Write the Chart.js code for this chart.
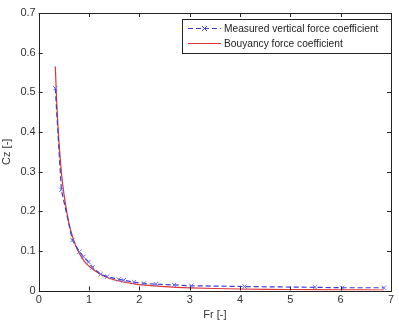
<!DOCTYPE html>
<html>
<head>
<meta charset="utf-8">
<script src="https://cdn.jsdelivr.net/npm/chart.js@4/dist/chart.umd.min.js"></script>
<style>
  html, body { margin: 0; padding: 0; background: #fff; }
  #wrap { width: 399px; height: 324px; }
</style>
</head>
<body>
<div id="wrap"><canvas id="myChart" width="399" height="324"></canvas></div>
<script>
// valores
const frMedido = [0.33, 0.45, 0.67, 0.81, 0.89, 0.99, 1.07, 1.23, 1.36, 1.59, 1.69, 1.89, 2.09, 2.33, 2.69, 3.03, 4.09, 5.49, 6.03, 6.86];
const czMedido = [0.51, 0.254, 0.127, 0.098, 0.085, 0.072, 0.058, 0.041, 0.035, 0.028, 0.026, 0.021, 0.018, 0.016, 0.014, 0.012, 0.01, 0.008, 0.007, 0.007];
const frEmpuxo = [0.33, 0.36, 0.4, 0.45, 0.5, 0.6, 0.7, 0.8, 0.9, 1.0, 1.2, 1.4, 1.6, 1.8, 2.0, 2.5, 3.0, 4.0, 5.0, 6.0, 6.86];
const czEmpuxo = [0.565, 0.47, 0.38, 0.30, 0.245, 0.17, 0.125, 0.095, 0.075, 0.061, 0.043, 0.031, 0.024, 0.019, 0.015, 0.0098, 0.0068, 0.0038, 0.0025, 0.0017, 0.0013];
const ticksX = [0, 1, 2, 3, 4, 5, 6, 7];
const ticksY = [0, 0.1, 0.2, 0.3, 0.4, 0.5, 0.6, 0.7];
const nomes = ["Measured vertical force coefficient", "Bouyancy force coefficient"];

const azul = "#3b3bd0";
const vermelho = "#e03535";
const fonte = "'Liberation Sans', Arial, sans-serif";

function pares(xs, ys) {
  return xs.map((x, i) => ({ x: x, y: ys[i] }));
}

// ticks para dentro em todos os lados, estilo matlab
const ticksDentro = {
  id: "ticksDentro",
  afterDraw(chart) {
    const ctx = chart.ctx;
    const a = chart.chartArea;
    const sx = chart.scales.x;
    const sy = chart.scales.y;
    ctx.save();
    ctx.strokeStyle = "#222";
    ctx.lineWidth = 1;
    ctx.strokeRect(Math.round(a.left) + 0.5, Math.round(a.top) + 0.5, Math.round(a.right - a.left), Math.round(a.bottom - a.top));
    ctx.beginPath();
    ticksX.forEach((v) => {
      const px = Math.round(sx.getPixelForValue(v)) + 0.5;
      ctx.moveTo(px, a.bottom);
      ctx.lineTo(px, a.bottom - 4);
      ctx.moveTo(px, a.top);
      ctx.lineTo(px, a.top + 4);
    });
    ticksY.forEach((v) => {
      const py = Math.round(sy.getPixelForValue(v)) + 0.5;
      ctx.moveTo(a.left, py);
      ctx.lineTo(a.left + 4, py);
      ctx.moveTo(a.right, py);
      ctx.lineTo(a.right - 4, py);
    });
    ctx.stroke();

    // legenda com caixa
    const lx = 182, ly = 19, lw = 209, lh = 34;
    ctx.fillStyle = "#fff";
    ctx.fillRect(lx, ly, lw, lh);
    ctx.strokeStyle = "#222";
    ctx.strokeRect(lx + 0.5, ly + 0.5, lw, lh);
    ctx.font = "10.2px " + fonte;
    ctx.textBaseline = "middle";
    ctx.fillStyle = "#222";
    // linha 1
    ctx.strokeStyle = azul;
    ctx.setLineDash([5, 3]);
    ctx.beginPath();
    ctx.moveTo(188, 28.5);
    ctx.lineTo(221, 28.5);
    ctx.stroke();
    ctx.setLineDash([]);
    ctx.beginPath();
    ctx.moveTo(202, 26);
    ctx.lineTo(207, 31);
    ctx.moveTo(207, 26);
    ctx.lineTo(202, 31);
    ctx.stroke();
    ctx.fillText(nomes[0], 224, 29);
    // linha 2
    ctx.strokeStyle = vermelho;
    ctx.beginPath();
    ctx.moveTo(188, 43.5);
    ctx.lineTo(221, 43.5);
    ctx.stroke();
    ctx.fillText(nomes[1], 224, 44);
    ctx.restore();
  },
};

function grafico() {
  const ctx = document.getElementById("myChart");
  new Chart(ctx, {
    type: "scatter",
    data: {
      datasets: [
        {
          label: nomes[0],
          data: pares(frMedido, czMedido),
          showLine: true,
          borderColor: azul,
          backgroundColor: azul,
          borderWidth: 1.2,
          borderDash: [5, 3],
          pointStyle: "crossRot",
          pointRadius: 3,
          pointBorderWidth: 1,
          pointBorderColor: "#6b6bf0",
        },
        {
          label: nomes[1],
          data: pares(frEmpuxo, czEmpuxo),
          showLine: true,
          borderColor: vermelho,
          borderWidth: 1.2,
          pointRadius: 0,
          tension: 0.3,
        },
      ],
    },
    options: {
      responsive: false,
      animation: false,
      layout: { padding: { top: 13, right: 8, left: 0, bottom: 0 } },
      plugins: {
        legend: { display: false },
        tooltip: { enabled: false },
      },
      scales: {
        x: {
          type: "linear",
          min: 0,
          max: 7,
          afterBuildTicks: (s) => { s.ticks = ticksX.map((v) => ({ value: v })); },
          afterFit: (s) => { s.height = 33.5; },
          grid: { display: false, drawTicks: false },
          border: { display: false },
          ticks: { color: "#333", font: { family: fonte, size: 11 }, padding: 3, maxRotation: 0 },
          title: { display: true, text: "Fr [-]", color: "#333", font: { family: fonte, size: 11 }, padding: { top: 0, bottom: 2 } },
        },
        y: {
          type: "linear",
          min: 0,
          max: 0.7,
          afterBuildTicks: (s) => { s.ticks = ticksY.map((v) => ({ value: v })); },
          afterFit: (s) => { s.width = 38.7; },
          grid: { display: false, drawTicks: false },
          border: { display: false },
          ticks: {
            color: "#333",
            font: { family: fonte, size: 11 },
            padding: 3,
            callback: (v) => (v === 0 ? "0" : v.toFixed(1)),
          },
          title: { display: true, text: "Cz [-]", color: "#333", font: { family: fonte, size: 11 }, padding: { top: 0, bottom: 0 } },
        },
      },
    },
    plugins: [ticksDentro],
  });
}

grafico();
</script>
</body>
</html>
